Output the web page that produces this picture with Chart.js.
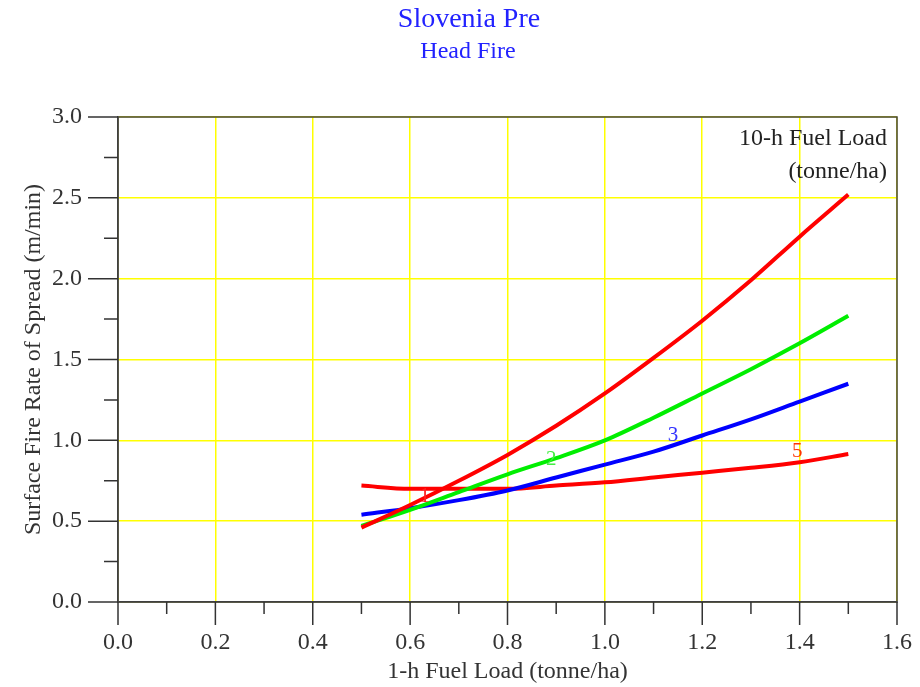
<!DOCTYPE html>
<html>
<head>
<meta charset="utf-8">
<style>
  html, body { margin: 0; padding: 0; background: #ffffff; }
  #wrap { width: 920px; height: 687px; }
</style>
<script src="https://cdn.jsdelivr.net/npm/chart.js@4"></script>
</head>
<body>
<div id="wrap"><canvas id="c" width="920" height="687"></canvas></div>
<script>
// ---- data ----
const fuelLoad1h = [0.5, 0.6, 0.7, 0.8, 0.9, 1.0, 1.1, 1.2, 1.3, 1.4, 1.5];
const ros10h1 = [0.46, 0.60, 0.75, 0.91, 1.09, 1.29, 1.51, 1.74, 1.99, 2.26, 2.52];
const ros10h2 = [0.47, 0.57, 0.68, 0.79, 0.89, 1.00, 1.14, 1.29, 1.44, 1.60, 1.77];
const ros10h3 = [0.54, 0.58, 0.63, 0.69, 0.77, 0.85, 0.93, 1.03, 1.13, 1.24, 1.35];
const ros10h5 = [0.72, 0.70, 0.70, 0.70, 0.72, 0.74, 0.77, 0.80, 0.83, 0.865, 0.915];
const seriesNames = ['1', '2', '3', '5'];
const seriesColors = ['#ff0000', '#00ee00', '#0000ff', '#ff0000'];
const labelColors = ['#ff2020', '#44ee44', '#3333ff', '#ff3300'];
const labelX = [0.63, 0.89, 1.14, 1.395];
const labelY = [0.65, 0.88, 1.03, 0.93];
const xTicks = [0, 0.2, 0.4, 0.6, 0.8, 1.0, 1.2, 1.4, 1.6];
const yTicks = [0, 0.5, 1.0, 1.5, 2.0, 2.5, 3.0];
const xMinorTicks = [0.1, 0.3, 0.5, 0.7, 0.9, 1.1, 1.3, 1.5];
const yMinorTicks = [0.25, 0.75, 1.25, 1.75, 2.25, 2.75];
const titleText = 'Slovenia Pre';
const subtitleText = 'Head Fire';
const legendTitle = ['10-h Fuel Load', '(tonne/ha)'];
const xTitle = '1-h Fuel Load (tonne/ha)';
const yTitle = 'Surface Fire Rate of Spread (m/min)';

const allSeries = [ros10h1, ros10h2, ros10h3, ros10h5];
const SERIF = "'Liberation Serif', 'Times New Roman', serif";

const datasets = allSeries.map((vals, i) => ({
  label: seriesNames[i],
  data: fuelLoad1h.map((x, j) => ({ x: x, y: vals[j] })),
  borderColor: seriesColors[i],
  backgroundColor: seriesColors[i],
  borderWidth: 4,
  pointRadius: 0,
  cubicInterpolationMode: 'monotone',
  fill: false
}));

const decorPlugin = {
  id: 'decor',
  afterDatasetsDraw(chart) {
    const ctx = chart.ctx;
    const xs = chart.scales.x, ys = chart.scales.y;
    ctx.save();
    ctx.font = "21px " + SERIF;
    ctx.textAlign = 'center';
    ctx.textBaseline = 'middle';
    seriesNames.forEach((n, i) => {
      ctx.fillStyle = labelColors[i];
      ctx.fillText(n, xs.getPixelForValue(labelX[i]), ys.getPixelForValue(labelY[i]));
    });
    ctx.restore();
  },
  afterDraw(chart) {
    const ctx = chart.ctx;
    const xs = chart.scales.x, ys = chart.scales.y;
    const a = chart.chartArea;
    ctx.save();
    ctx.strokeStyle = '#444';
    ctx.lineWidth = 1.5;
    ctx.strokeRect(a.left, a.top, a.right - a.left, a.bottom - a.top);
    ctx.strokeStyle = '#333';
    ctx.beginPath();
    xTicks.forEach(v => { const p = xs.getPixelForValue(v); ctx.moveTo(p, a.bottom); ctx.lineTo(p, a.bottom + 23); });
    xMinorTicks.forEach(v => { const p = xs.getPixelForValue(v); ctx.moveTo(p, a.bottom); ctx.lineTo(p, a.bottom + 12); });
    yTicks.forEach(v => { const p = ys.getPixelForValue(v); ctx.moveTo(a.left, p); ctx.lineTo(a.left - 30, p); });
    yMinorTicks.forEach(v => { const p = ys.getPixelForValue(v); ctx.moveTo(a.left, p); ctx.lineTo(a.left - 14, p); });
    ctx.stroke();
    ctx.fillStyle = '#2222ff';
    ctx.textAlign = 'center';
    ctx.textBaseline = 'middle';
    ctx.font = "28px " + SERIF;
    ctx.fillText(titleText, 469, 20);
    ctx.font = "24px " + SERIF;
    ctx.fillText(subtitleText, 468, 52);
    ctx.fillStyle = '#222';
    ctx.textAlign = 'right';
    ctx.font = "24px " + SERIF;
    ctx.fillText(legendTitle[0], a.right - 10, 139);
    ctx.fillText(legendTitle[1], a.right - 10, 172);
    ctx.restore();
  }
};

new Chart(document.getElementById('c'), {
  type: 'line',
  data: { datasets: datasets },
  plugins: [decorPlugin],
  options: {
    responsive: false,
    animation: false,
    layout: { padding: { top: 117, left: 0, right: 23, bottom: 0 } },
    plugins: { legend: { display: false }, tooltip: { enabled: false }, title: { display: false } },
    scales: {
      x: {
        type: 'linear', min: 0, max: 1.6,
        afterBuildTicks: s => { s.ticks = xTicks.map(v => ({ value: v })); },
        afterFit: s => { s.height = 85; },
        ticks: { callback: v => Number(v).toFixed(1), font: { family: SERIF, size: 24 }, color: '#333', padding: 0, maxRotation: 0, autoSkip: false },
        grid: { color: '#ffff00', lineWidth: 1.5, drawTicks: true, tickLength: 26, tickColor: 'rgba(0,0,0,0)' },
        border: { display: true, color: '#333', width: 1.5 },
        title: { display: true, text: xTitle, font: { family: SERIF, size: 24 }, color: '#333', padding: { top: 0, bottom: 1 } }
      },
      y: {
        type: 'linear', min: 0, max: 3,
        afterBuildTicks: s => { s.ticks = yTicks.map(v => ({ value: v })); },
        afterFit: s => { s.width = 118; },
        ticks: { callback: v => Number(v).toFixed(1), font: { family: SERIF, size: 24 }, color: '#333', padding: 0 },
        grid: { color: '#ffff00', lineWidth: 1.5, drawTicks: true, tickLength: 36, tickColor: 'rgba(0,0,0,0)' },
        border: { display: true, color: '#333', width: 1.5 },
        title: { display: true, text: yTitle, font: { family: SERIF, size: 24 }, color: '#333', padding: { top: 19, bottom: 0 } }
      }
    }
  }
});
</script>
</body>
</html>
